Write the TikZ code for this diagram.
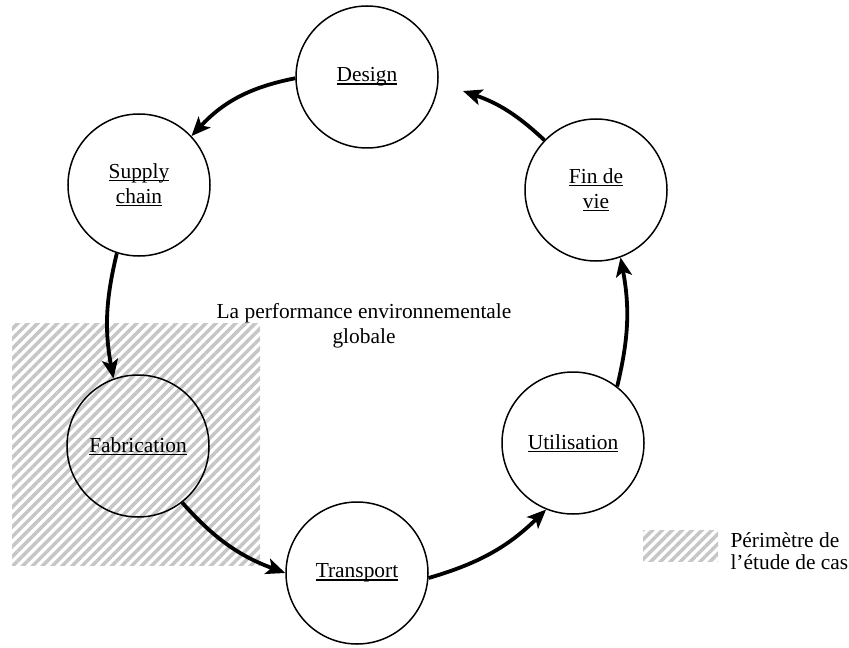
\documentclass[tikz,border=0pt]{standalone}
\usepackage{fontspec}
\setmainfont{Liberation Serif}
\usetikzlibrary{arrows.meta,patterns.meta}
\definecolor{hatchgray}{HTML}{C6C6C6}
% underline at a fixed depth below the baseline
\newcommand\ulword[1]{\leavevmode\setbox0\hbox{#1}\rlap{\rule[-2.8bp]{\wd0}{1.3bp}}\box0}
\begin{document}
\begin{tikzpicture}[x=1bp,y=-1bp,
  stage/.style={circle,draw,line width=1.5bp,minimum size=142bp,inner sep=0pt,
    align=center,font=\fontsize{21.4bp}{25bp}\selectfont},
  flow/.style={line width=3.8bp,-{Stealth[length=19bp,width=16bp,inset=4.5bp]}},
  hatch/.style={pattern={Lines[angle=45,distance=7bp,line width=3.5bp]},pattern color=hatchgray},
  label/.style={font=\fontsize{21.4bp}{25bp}\selectfont}
]
\useasboundingbox (0,0) rectangle (849,648);

% study perimeter
\fill[hatch] (12,323) rectangle (260,565);

% life-cycle stages
\node[stage] (design)   at (367,77)  {\ulword{Design}};
\node[stage] (supply)   at (139,185) {\ulword{Supply}\\\ulword{chain}};
\node[stage] (fab)      at (138,446) {\ulword{Fabrication}};
\node[stage] (trans)    at (357,573) {\ulword{Transport}};
\node[stage] (util)     at (573,443) {\ulword{Utilisation}};
\node[stage] (fin)      at (596,190) {\ulword{Fin de}\\\ulword{vie}};
\coordinate (designgap) at (463,91);

% centre caption
\node[label,align=center] (perf) at (364,326) {La performance environnementale\\globale};

% flows between stages
\draw[flow] (design.181) to[bend right=18] (supply.43);
\draw[flow] (supply.252) to[bend right=12] (fab.110);
\draw[flow] (fab.-52)    to[bend right=14] (trans.180);
\draw[flow] (trans.-4)   to[bend right=14] (util.248);
\draw[flow] (util.52)    to[bend right=12] (fin.-70);
\draw[flow] (fin.136)    to[bend right=12] (designgap);

% legend
\fill[hatch] (643,530) rectangle (718,561);
\node[label,anchor=west,align=left,font=\fontsize{21.4bp}{21.5bp}\selectfont] (legend) at (727,551)
  {Périmètre de\\l’étude de cas};
\end{tikzpicture}
\end{document}
